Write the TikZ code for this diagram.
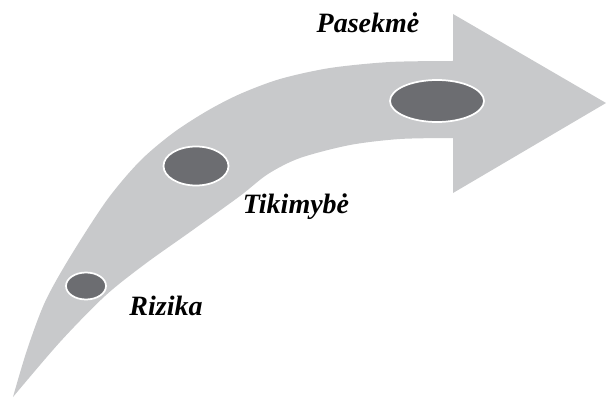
\documentclass[tikz,border=0pt]{standalone}
\usepackage{fontspec}
\setmainfont{Liberation Serif}
\usetikzlibrary{shapes.geometric}
\definecolor{arrowgrey}{RGB}{200,201,203}
\definecolor{spotgrey}{RGB}{108,109,113}
\tikzset{
  spot/.style={
    ellipse,
    draw=white,
    fill=spotgrey,
    line width=1.3pt,
    inner sep=0pt
  },
  zyme/.style={
    anchor=base,
    font=\fontsize{21}{24}\selectfont\bfseries\itshape
  }
}

\begin{document}
\begin{tikzpicture}[x=0.75pt, y=-0.75pt]
\useasboundingbox (0,0) rectangle (606,399);
% curved arrow
\fill[arrowgrey] plot[smooth] coordinates {(13,397) (27,350) (45,302) (70,257) (107,200) (140,161) (173,133) (207,111) (240,94) (280,79) (330,68) (390,62) (453,61)}
  -- (453,14) -- (606,103) -- (453,193) -- (453,138)
  -- plot[smooth] coordinates {(453,138) (400,139) (350,145) (300,158) (268,174) (240,196) (190,232) (145,264) (105,296) (60,342) (13,397)}
  -- cycle;
% spots on the arrow
\node[spot, minimum width=40pt*0.75, minimum height=27pt*0.75] (rizika) at (86,286) {};
\node[spot, minimum width=65pt*0.75, minimum height=39pt*0.75] (tikimybe) at (196,166) {};
\node[spot, minimum width=94pt*0.75, minimum height=42pt*0.75] (pasekme) at (437,101) {};
% labels
\node[zyme] (lrizika) at (166,315) {Rizika};
\node[zyme] (ltikimybe) at (296,213) {Tikimybė};
\node[zyme] (lpasekme) at (368,33) {Pasekmė};
\end{tikzpicture}
\end{document}
